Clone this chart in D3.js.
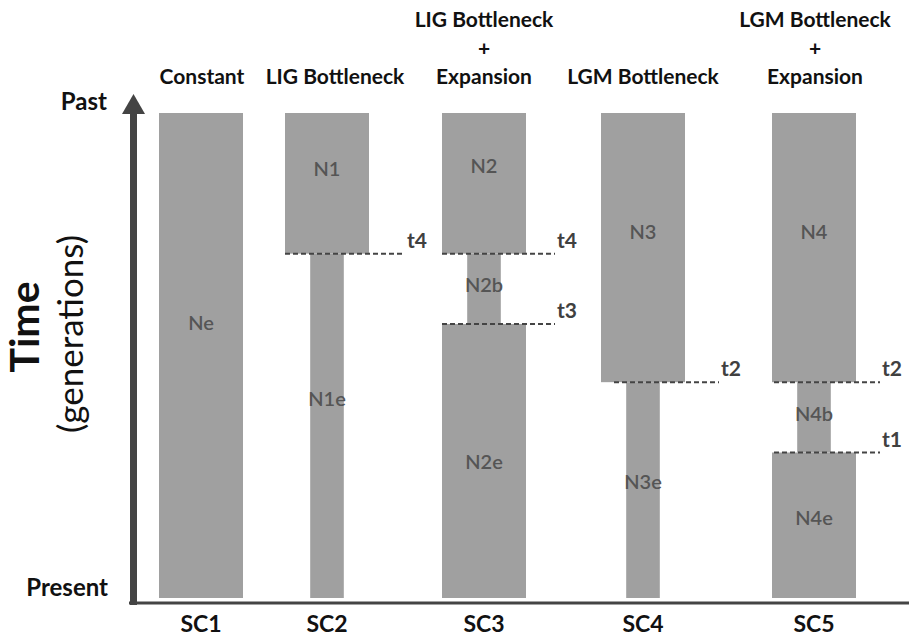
<!DOCTYPE html>
<html><head><meta charset="utf-8">
<script src="https://cdn.jsdelivr.net/npm/d3@7"></script>
<style>body{margin:0;background:#fff}svg{display:block}text{font-family:Lato,"Open Sans",sans-serif}</style>
</head><body><svg id="c" width="909" height="638"></svg>
<script>
// ---- data ----
const scenarios = ["SC1","SC2","SC3","SC4","SC5"];
const titles = [["Constant"],["LIG Bottleneck"],["LIG Bottleneck","+","Expansion"],["LGM Bottleneck"],["LGM Bottleneck","+","Expansion"]];
const timeNames = ["t1","t2","t3","t4"];
const timeValues = [30, 44.5, 56.5, 71];   // relative generations (0 = present, 100 = past)
// segments: scenario, label, start time, end time, relative size
const segScenario = ["SC1","SC2","SC2","SC3","SC3","SC3","SC4","SC4","SC5","SC5","SC5"];
const segLabel    = ["Ne","N1","N1e","N2","N2b","N2e","N3","N3e","N4","N4b","N4e"];
const segFrom     = [0, 71, 0, 71, 56.5, 0, 44.5, 0, 44.5, 30, 0];
const segTo       = [100, 100, 71, 100, 71, 56.5, 100, 44.5, 100, 44.5, 30];
const segSize     = [1, 1, 0.4, 1, 0.4, 1, 1, 0.4, 1, 0.4, 1];
const labelTime   = [56.7, 88.5, 41, 89, 64.5, 28, 75.5, 24, 75.5, 38, 16.5];
// time boundaries drawn per scenario
const bScenario = ["SC2","SC3","SC3","SC4","SC5","SC5"];
const bTime     = ["t4","t4","t3","t2","t2","t1"];

// ---- scales ----
const svg = d3.select("#c");
const y = d3.scaleLinear().domain([0,100]).range([598,113]);
const x = d3.scaleOrdinal().domain(scenarios).range([201,327,484,643,814]);
const titleX = d3.scaleOrdinal().domain(scenarios).range([202,335,484,643,815]);
const w = d3.scaleLinear().domain([0,1]).range([0,84]);
const dashL = d3.scaleOrdinal().domain(scenarios).range([0,-42,-42,-29,-40]);
const dashR = d3.scaleOrdinal().domain(scenarios).range([0,78,71,76,66]);
const tval = t => timeValues[timeNames.indexOf(t)];

// bars
const segs = segLabel.map((l,i)=>({sc:segScenario[i],label:l,from:segFrom[i],to:segTo[i],size:segSize[i],lt:labelTime[i]}));
svg.selectAll("rect.seg").data(segs).join("rect").attr("class","seg")
  .attr("x",d=>x(d.sc)-w(d.size)/2).attr("width",d=>w(d.size))
  .attr("y",d=>y(d.to)).attr("height",d=>y(d.from)-y(d.to))
  .attr("fill","#a0a0a0");
svg.selectAll("text.seg").data(segs).join("text").attr("class","seg")
  .attr("x",d=>x(d.sc)).attr("y",d=>y(d.lt)).attr("text-anchor","middle").attr("dy","0.35em")
  .attr("font-size",20).attr("font-weight",600).attr("fill","#555").text(d=>d.label);

// boundaries
const bds = bScenario.map((s,i)=>({sc:s,t:bTime[i]}));
svg.selectAll("line.bd").data(bds).join("line").attr("class","bd")
  .attr("x1",d=>x(d.sc)+dashL(d.sc)).attr("x2",d=>x(d.sc)+dashR(d.sc))
  .attr("y1",d=>y(tval(d.t))).attr("y2",d=>y(tval(d.t)))
  .attr("stroke","#444").attr("stroke-width",2).attr("stroke-dasharray","5,3");
svg.selectAll("text.bd").data(bds).join("text").attr("class","bd")
  .attr("x",d=>x(d.sc)+dashR(d.sc)+2).attr("y",d=>y(tval(d.t))-6)
  .attr("font-size",21).attr("font-weight",700).attr("fill","#404040").text(d=>d.t);

// titles
scenarios.forEach((s,i)=>{
  const lines = titles[i];
  lines.forEach((ln,j)=>{
    svg.append("text").attr("x",titleX(s)).attr("y",84-(lines.length-1-j)*28.5)
      .attr("text-anchor","middle").attr("font-size",21).attr("font-weight",700).attr("fill","#111").text(ln);
  });
});
// scenario axis labels
svg.selectAll("text.sc").data(scenarios).join("text").attr("class","sc")
  .attr("x",d=>x(d)).attr("y",632).attr("text-anchor","middle")
  .attr("font-size",23).attr("font-weight",700).attr("fill","#111").text(d=>d);

// axes
svg.append("line").attr("x1",129).attr("x2",909).attr("y1",603).attr("y2",603).attr("stroke","#444").attr("stroke-width",3);
svg.append("line").attr("x1",133.5).attr("x2",133.5).attr("y1",605).attr("y2",110).attr("stroke","#444").attr("stroke-width",7);
svg.append("path").attr("d","M122,114 L133.5,94 L145,114 Z").attr("fill","#444");

svg.append("text").attr("x",107).attr("y",110).attr("text-anchor","end").attr("font-size",24).attr("font-weight",700).attr("fill","#111").text("Past");
svg.append("text").attr("x",108).attr("y",596).attr("text-anchor","end").attr("font-size",24).attr("font-weight",700).attr("fill","#111").text("Present");
svg.append("text").attr("transform","translate(39,327) rotate(-90)").attr("text-anchor","middle")
  .attr("font-size",41).attr("font-weight",700).attr("fill","#111").text("Time");
svg.append("text").attr("transform","translate(83,334) rotate(-90)").attr("text-anchor","middle")
  .attr("font-size",35).attr("fill","#111").text("(generations)");
</script></body></html>
